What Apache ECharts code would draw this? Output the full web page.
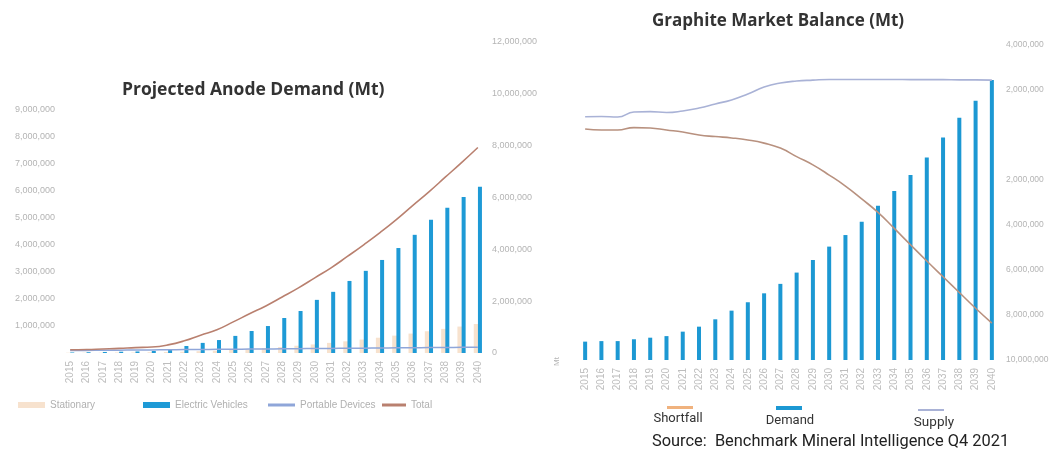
<!DOCTYPE html>
<html>
<head>
<meta charset="utf-8">
<script src="https://cdn.jsdelivr.net/npm/echarts@6/dist/echarts.min.js"></script>
<style>
  html, body { margin: 0; padding: 0; background: #ffffff; }
  #chart { width: 1052px; height: 455px; }
</style>
</head>
<body>
<div id="chart"></div>
<script>
// Years shared by both panels
const years = ['2015','2016','2017','2018','2019','2020','2021','2022','2023','2024','2025','2026','2027',
  '2028','2029','2030','2031','2032','2033','2034','2035','2036','2037','2038','2039','2040'];

// Projected anode demand (t)
const anodeStationary = [10000,10000,10000,20000,20000,30000,40000,50000,70000,90000,120000,150000,190000,
  230000,280000,330000,390000,450000,520000,590000,670000,750000,840000,930000,1020000,1120000];
const anodeEV = [20000,30000,40000,50000,60000,80000,120000,270000,390000,500000,660000,850000,1040000,
  1350000,1620000,2050000,2360000,2780000,3170000,3590000,4050000,4560000,5140000,5600000,6020000,6410000];
const anodePortable = [90000,95000,100000,105000,110000,115000,120000,125000,130000,135000,140000,145000,150000,
  155000,160000,165000,170000,175000,180000,185000,190000,195000,200000,205000,210000,215000];
const anodeTotal = [120000,130000,150000,170000,200000,220000,300000,450000,660000,860000,1150000,1450000,1740000,
  2070000,2410000,2780000,3150000,3570000,4000000,4450000,4930000,5450000,5960000,6500000,7040000,7600000];

// Graphite market balance (t)
const balanceDemand = [700000,720000,720000,790000,850000,910000,1080000,1270000,1550000,1880000,2200000,2540000,2900000,
  3330000,3810000,4320000,4760000,5270000,5880000,6440000,7050000,7710000,8480000,9230000,9880000,10670000];
const balanceSupply = [810000,820000,800000,1020000,1040000,1000000,1070000,1200000,1380000,1560000,1820000,2130000,2310000,
  2400000,2440000,2470000,2470000,2470000,2470000,2470000,2460000,2460000,2460000,2450000,2450000,2440000];
const balanceShortfall = [270000,220000,220000,330000,310000,220000,130000,0,-70000,-130000,-220000,-360000,-580000,
  -960000,-1330000,-1780000,-2270000,-2840000,-3440000,-4150000,-4880000,-5600000,-6300000,-7000000,-7700000,-8360000];

// Axis tick labels
const anodeLeftTicks = [1000000,2000000,3000000,4000000,5000000,6000000,7000000,8000000,9000000];

const fmt = v => Number(v).toLocaleString('en-US');
const tickColor = '#b4b4b4';
const tickFont = 'Liberation Sans';

const chart = echarts.init(document.getElementById('chart'), null, { renderer: 'canvas' });

const catAxis = (gridIndex) => ({
  type: 'category', gridIndex, data: years, boundaryGap: true,
  axisLine: { show: false }, axisTick: { show: false }, splitLine: { show: false },
  axisLabel: { rotate: 90, fontSize: 10, color: '#bdbdbd', fontFamily: tickFont, margin: 8, interval: 0 }
});

const legendText = { color: '#b0b0b0', fontSize: 10, fontFamily: tickFont };

const option = {
  backgroundColor: '#ffffff',
  animation: false,
  title: [
    { text: 'Projected Anode Demand (Mt)', left: 117, top: 76,
      textStyle: { fontFamily: 'Open Sans', fontWeight: 'bold', fontSize: 17.5, color: '#333333' } },
    { text: 'Graphite Market Balance (Mt)', left: 647, top: 8,
      textStyle: { fontFamily: 'Open Sans', fontWeight: 'bold', fontSize: 17, color: '#333333' } }
  ],
  legend: [
    { data: ['Stationary'], left: 18, top: 400, padding: 0, itemWidth: 27, itemHeight: 6, icon: 'rect', textStyle: legendText },
    { data: ['Electric Vehicles'], left: 143, top: 400, padding: 0, itemWidth: 27, itemHeight: 6, icon: 'rect', textStyle: legendText },
    { data: ['Portable Devices'], left: 268, top: 400, padding: 0, itemWidth: 27, itemHeight: 3, icon: 'rect', textStyle: legendText },
    { data: ['Total'], left: 382, top: 400, padding: 0, itemWidth: 24, itemHeight: 3, icon: 'rect', textStyle: legendText }
  ],
  grid: [
    { left: 62, right: 566, top: 42, bottom: 102 },
    { left: 577, right: 52, top: 45, bottom: 95 }
  ],
  xAxis: [catAxis(0), catAxis(1)],
  yAxis: [
    { type: 'value', gridIndex: 0, position: 'left', min: 0, max: 11500000, interval: 1000000,
      axisLine: { show: false }, axisTick: { show: false }, splitLine: { show: false },
      axisLabel: { fontSize: 9, color: tickColor, fontFamily: tickFont, margin: 7,
        formatter: v => anodeLeftTicks.indexOf(v) >= 0 ? fmt(v) : '' } },
    { type: 'value', gridIndex: 0, position: 'right', min: 0, max: 12000000, interval: 2000000,
      axisLine: { show: false }, axisTick: { show: false }, splitLine: { show: false },
      axisLabel: { fontSize: 9, color: tickColor, fontFamily: tickFont, margin: 6, formatter: v => fmt(v) } },
    { type: 'value', gridIndex: 1, position: 'left', min: 0, max: 12000000, interval: 2000000,
      show: false, splitLine: { show: false } },
    { type: 'value', gridIndex: 1, position: 'right', min: -10000000, max: 4000000, interval: 2000000,
      axisLine: { show: false }, axisTick: { show: false }, splitLine: { show: false },
      axisLabel: { fontSize: 8.5, color: tickColor, fontFamily: tickFont, margin: 6,
        formatter: v => v === 0 ? '' : fmt(Math.abs(v)) } }
  ],
  series: [
    { name: 'Stationary', type: 'bar', xAxisIndex: 0, yAxisIndex: 1, data: anodeStationary,
      barWidth: 6, barGap: '-30%', itemStyle: { color: '#f1cfae', opacity: 0.6 } },
    { name: 'Electric Vehicles', type: 'bar', xAxisIndex: 0, yAxisIndex: 1, data: anodeEV,
      barWidth: 4, itemStyle: { color: '#1e9ad6' } },
    { name: 'Portable Devices', type: 'line', xAxisIndex: 0, yAxisIndex: 0, data: anodePortable,
      symbol: 'none', smooth: true, lineStyle: { color: '#8fa6d9', width: 1.5 }, itemStyle: { color: '#8fa6d9' } },
    { name: 'Total', type: 'line', xAxisIndex: 0, yAxisIndex: 0, data: anodeTotal,
      symbol: 'none', smooth: true, lineStyle: { color: '#b9806f', width: 1.6 }, itemStyle: { color: '#b9806f' } },

    { name: 'Demand', type: 'bar', xAxisIndex: 1, yAxisIndex: 2, data: balanceDemand,
      barWidth: 4, itemStyle: { color: '#1c98d3' } },
    { name: 'Supply', type: 'line', xAxisIndex: 1, yAxisIndex: 3, data: balanceSupply,
      symbol: 'none', smooth: true, lineStyle: { color: '#a9b2d6', width: 1.6 } },
    { name: 'Shortfall', type: 'line', xAxisIndex: 1, yAxisIndex: 3, data: balanceShortfall,
      symbol: 'none', smooth: true, lineStyle: { color: '#b8917f', width: 1.6 } }
  ],
  graphic: [
    { type: 'text', x: 553, y: 366, rotation: Math.PI / 2,
      style: { text: 'Mt', fill: '#b4b4b4', font: '8px "Liberation Sans"' } },
    // Market balance key: swatch above each name
    { type: 'rect', shape: { x: 667, y: 406, width: 26, height: 3 }, style: { fill: '#f0b27e' } },
    { type: 'text', x: 678, y: 419, style: { text: 'Shortfall', fill: '#333333', font: '13px Roboto', align: 'center', verticalAlign: 'middle' } },
    { type: 'rect', shape: { x: 776, y: 406, width: 26, height: 4 }, style: { fill: '#1c98d3' } },
    { type: 'text', x: 790, y: 421, style: { text: 'Demand', fill: '#333333', font: '13px Roboto', align: 'center', verticalAlign: 'middle' } },
    { type: 'rect', shape: { x: 918, y: 409, width: 26, height: 2 }, style: { fill: '#a9b2d6' } },
    { type: 'text', x: 934, y: 423, style: { text: 'Supply', fill: '#333333', font: '13.5px Roboto', align: 'center', verticalAlign: 'middle' } },
    { type: 'text', x: 652, y: 442, style: { text: 'Source:  Benchmark Mineral Intelligence Q4 2021', fill: '#222222',
      font: '16.4px Roboto', verticalAlign: 'middle' } }
  ]
};

chart.setOption(option);
</script>
</body>
</html>
